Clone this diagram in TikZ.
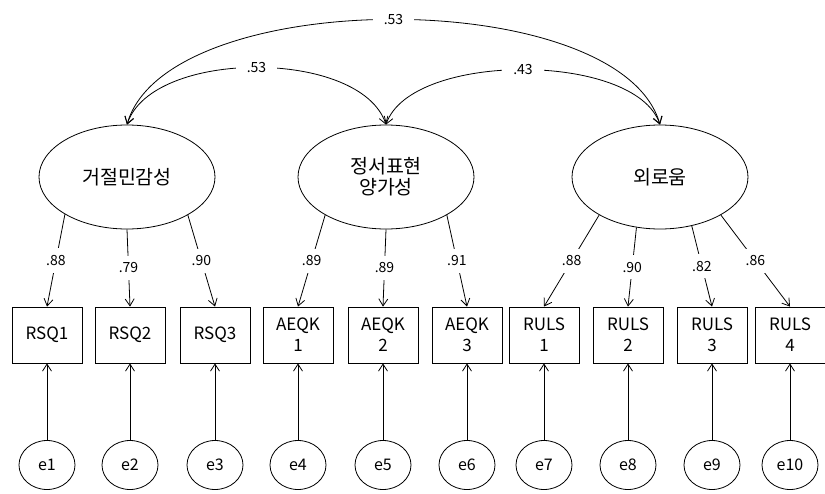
\documentclass[tikz,border=0pt]{standalone}
\usepackage{fontspec}
\setmainfont{Noto Sans CJK KR}
\usepackage{tikz}
\usetikzlibrary{shapes.geometric, arrows.meta, positioning}

\begin{document}
\begin{tikzpicture}[
    x=1pt, y=-1pt,
    latent/.style={ellipse, draw, thick, minimum width=176pt, minimum height=104pt, inner sep=0pt, align=center, font=\fontsize{19.5}{21}\selectfont},
    indicator/.style={rectangle, draw, thick, minimum width=70pt, minimum height=56pt, inner sep=0pt, align=center, font=\fontsize{17}{21}\selectfont},
    errvar/.style={ellipse, draw, thick, minimum width=56pt, minimum height=49pt, inner sep=0pt, font=\fontsize{16}{18}\selectfont},
    coef/.style={fill=white, inner xsep=11pt, inner ysep=7pt, font=\fontsize{14}{15}\selectfont},
    load/.style={thick, -{Straight Barb[length=7pt,width=9pt]}},
    corr/.style={thick, {Straight Barb[length=7pt,width=9pt]}-{Straight Barb[length=7pt,width=9pt]}}
]
    \useasboundingbox (0,0) rectangle (825,493);

    % latent factors
    \node[latent] (rs) at (127,177) {거절민감성};
    \node[latent] (ae) at (386,177) {정서표현\\양가성};
    \node[latent] (lo) at (660,177) {외로움};

    % observed items
    \node[indicator] (rsq1) at (47,335) {RSQ1};
    \node[indicator] (rsq2) at (130,335) {RSQ2};
    \node[indicator] (rsq3) at (215,335) {RSQ3};
    \node[indicator] (aeqk1) at (298,335) {AEQK\\1};
    \node[indicator] (aeqk2) at (383,335) {AEQK\\2};
    \node[indicator] (aeqk3) at (467,335) {AEQK\\3};
    \node[indicator] (ruls1) at (544,335) {RULS\\1};
    \node[indicator] (ruls2) at (628,335) {RULS\\2};
    \node[indicator] (ruls3) at (712,335) {RULS\\3};
    \node[indicator] (ruls4) at (790,335) {RULS\\4};

    % residuals
    \node[errvar] (e1) at (47,465) {e1};
    \node[errvar] (e2) at (130,465) {e2};
    \node[errvar] (e3) at (215,465) {e3};
    \node[errvar] (e4) at (298,465) {e4};
    \node[errvar] (e5) at (383,465) {e5};
    \node[errvar] (e6) at (467,465) {e6};
    \node[errvar] (e7) at (544,465) {e7};
    \node[errvar] (e8) at (628,465) {e8};
    \node[errvar] (e9) at (712,465) {e9};
    \node[errvar] (e10) at (790,465) {e10};

    % correlations
    \draw[corr] (rs.north) .. controls +(40,-140) and +(-40,-140) .. node[coef] {.53} (lo.north);
    \draw[corr] (rs.north) .. controls +(25,-76) and +(-25,-76) .. node[coef] {.53} (ae.north);
    \draw[corr] (ae.north) .. controls +(25,-73) and +(-25,-73) .. node[coef] {.43} (lo.north);

    % loadings
    \draw[load] (rs.211) -- node[coef] {.88} (rsq1.north);
    \draw[load] (rs.270) -- node[coef] {.79} (rsq2.north);
    \draw[load] (rs.328) -- node[coef] {.90} (rsq3.north);
    \draw[load] (ae.212) -- node[coef] {.89} (aeqk1.north);
    \draw[load] (ae.270) -- node[coef] {.89} (aeqk2.north);
    \draw[load] (ae.328) -- node[coef] {.91} (aeqk3.north);
    \draw[load] (lo.212) -- node[coef] {.88} (ruls1.north);
    \draw[load] (lo.245) -- node[coef] {.90} (ruls2.north);
    \draw[load] (lo.303) -- node[coef] {.82} (ruls3.north);
    \draw[load] (lo.328) -- node[coef] {.86} (ruls4.north);

    % error paths
    \draw[load] (e1) -- (rsq1);
    \draw[load] (e2) -- (rsq2);
    \draw[load] (e3) -- (rsq3);
    \draw[load] (e4) -- (aeqk1);
    \draw[load] (e5) -- (aeqk2);
    \draw[load] (e6) -- (aeqk3);
    \draw[load] (e7) -- (ruls1);
    \draw[load] (e8) -- (ruls2);
    \draw[load] (e9) -- (ruls3);
    \draw[load] (e10) -- (ruls4);
\end{tikzpicture}
\end{document}
